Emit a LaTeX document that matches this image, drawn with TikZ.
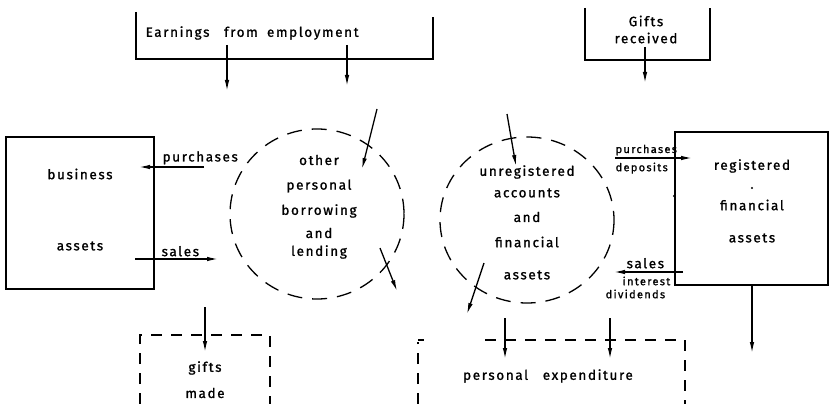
\documentclass[tikz,border=0pt]{standalone}
\usepackage{fontspec}
\setmainfont{Fira Sans}[LetterSpace=12,FakeBold=1.2]
\usetikzlibrary{arrows.meta}
\begin{document}
\begin{tikzpicture}[x=1pt,y=-1pt,
  line width=1.3pt,
  flow/.style={-{Latex[length=11pt,width=4.5pt]}},
  lbl/.style={inner sep=0pt,font=\fontsize{13.5}{15}\selectfont},
  sml/.style={inner sep=0pt,font=\fontsize{11}{12}\selectfont},
  sector/.style={draw,dash pattern=on 15pt off 10pt},
  pool/.style={draw,dash pattern=on 11pt off 9pt}]
\useasboundingbox (0,0) rectangle (833,404);

% sources at the top
\draw (136,12) -- (136,59) -- (433,59) -- (433,17);
\node[lbl,anchor=west] (earn) at (145,33) {Earnings\hspace{0.7em} from\hspace{0.3em} employment};
\draw (585,8) -- (585,60) -- (710,60) -- (710,8);
\node[lbl] (gr1) at (646,21) {Gifts};
\node[lbl] (gr2) at (646,38) {received};

% business assets
\draw (6,137) rectangle (154,289);
\node[lbl] (bus) at (80,174) {business};
\node[lbl] (bas) at (80,246) {assets};

% other personal borrowing and lending
\draw[sector] (317,214) ellipse (87 and 85);
\node[lbl] (o1) at (319,160) {other};
\node[lbl] (o2) at (319,186) {personal};
\node[lbl] (o3) at (319,211) {borrowing};
\node[lbl] (o4) at (319,233) {and};
\node[lbl] (o5) at (319,252) {lending};

% unregistered accounts and financial assets
\draw[sector] (527,220) ellipse (87 and 83);
\node[lbl] (u1) at (527,172) {unregistered};
\node[lbl] (u2) at (527,193) {accounts};
\node[lbl] (u3) at (527,217) {and};
\node[lbl] (u4) at (527,242) {financial};
\node[lbl] (u5) at (527,275) {assets};

% registered financial assets
\draw (675,132) rectangle (828,285);
\node[lbl] (r1) at (752,166) {registered};
\node[lbl] (r2) at (752,205) {financial};
\node[lbl] (r3) at (752,238) {assets};
\fill (752,188) circle (1.1pt);
\fill (674,196) circle (1.1pt);

% destinations at the bottom
\draw[pool] (140,404) -- (140,335) -- (270,335) -- (270,404);
\node[lbl] (gm1) at (205,368) {gifts};
\node[lbl] (gm2) at (205,393) {made};
\draw[pool] (418,404) -- (418,342);
\draw[pool] (418,340) -- (424,340);
\draw[pool] (485,340) -- (685,340) -- (685,404);
\node[lbl] (pe) at (548,376) {personal\hspace{0.7em} expenditure};

% flow labels
\node[lbl,anchor=south west] (pl) at (162,165) {purchases};
\node[lbl,anchor=south west] (sl) at (161,257) {sales};
\node[sml,anchor=south west] (pr) at (615,156) {purchases};
\draw[line width=0.8pt] (615,157) -- (675,157);
\node[sml,anchor=north west] (dp) at (615,162) {deposits};
\node[lbl,anchor=south west] (sr) at (626,269) {sales};
\node[sml,anchor=north west] (ir) at (622,276) {interest};
\node[sml,anchor=north west] (dv) at (605,289) {dividends};

% flow end points
\coordinate (e1s) at (227,45); \coordinate (e1e) at (227,91);
\coordinate (e2s) at (347,45); \coordinate (e2e) at (347,86);
\coordinate (g1s) at (645,47); \coordinate (g1e) at (645,83);
\coordinate (bp1) at (204,167); \coordinate (bp2) at (139,167);
\coordinate (bs1) at (135,259); \coordinate (bs2) at (218,259);
\coordinate (oi1) at (377,109); \coordinate (oi2) at (362,169);
\coordinate (oo1) at (380,248); \coordinate (oo2) at (397,291);
\coordinate (ui1) at (507,114); \coordinate (ui2) at (516,166);
\coordinate (uo1) at (484,263); \coordinate (uo2) at (467,314);
\coordinate (rp1) at (615,158); \coordinate (rp2) at (692,158);
\coordinate (rs1) at (683,272); \coordinate (rs2) at (614,272);
\coordinate (rd1) at (752,285); \coordinate (rd2) at (752,353);
\coordinate (gm1s) at (205,307); \coordinate (gm1e) at (205,352);
\coordinate (pe1s) at (505,318); \coordinate (pe1e) at (505,359);
\coordinate (pe2s) at (610,318); \coordinate (pe2e) at (610,359);

% flows
\draw[flow] (e1s) -- (e1e);
\draw[flow] (e2s) -- (e2e);
\draw[flow] (g1s) -- (g1e);
\draw[flow] (bp1) -- (bp2);
\draw[flow] (bs1) -- (bs2);
\draw[flow] (oi1) -- (oi2);
\draw[flow] (oo1) -- (oo2);
\draw[flow] (ui1) -- (ui2);
\draw[flow] (uo1) -- (uo2);
\draw[flow] (rp1) -- (rp2);
\draw[flow] (rs1) -- (rs2);
\draw[flow] (rd1) -- (rd2);
\draw[flow] (gm1s) -- (gm1e);
\draw[flow] (pe1s) -- (pe1e);
\draw[flow] (pe2s) -- (pe2e);
\end{tikzpicture}
\end{document}
